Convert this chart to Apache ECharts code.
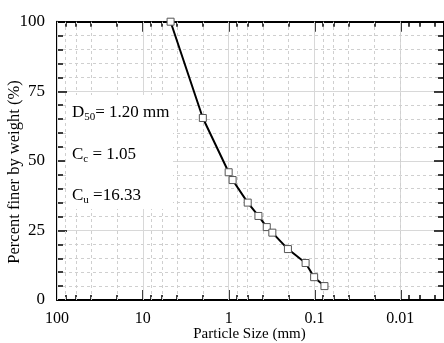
<!DOCTYPE html>
<html><head><meta charset="utf-8">
<script src="https://cdn.jsdelivr.net/npm/echarts@6/dist/echarts.min.js"></script>
<style>html,body{margin:0;padding:0;background:#fff}#c{width:444px;height:343px}</style>
</head><body><div id="c"></div>
<script>
// Data
const sizes = [4.75, 2.0, 1.0, 0.9, 0.6, 0.45, 0.36, 0.31, 0.204, 0.127, 0.101, 0.0766];
const finer = [100, 65.4, 45.9, 43.1, 35.0, 30.2, 26.2, 24.2, 18.3, 13.3, 8.2, 5.0];
const xMajorTicks = [100, 10, 1, 0.1, 0.01];
const xTickLabels = ['100', '10', '1', '0.1', '0.01'];
const xMinorTicks = [80, 60, 40, 20, 8, 6, 4, 2, 0.8, 0.6, 0.4, 0.2, 0.08, 0.06, 0.04, 0.02, 0.008, 0.006, 0.004];
const yTickLabels = ['0', '25', '50', '75', '100'];
const annotations = ['{a|D}{s|50}{a|= 1.20 mm}', '{a|C}{s|c}{a| = 1.05}', '{a|C}{s|u}{a| =16.33}'];

const FONT = '"Liberation Serif", "Times New Roman", serif';
const chart = echarts.init(document.getElementById('c'), null, {renderer: 'canvas'});
const xMin = 0.0031, xMax = 100;
const labelMap = {};
xMajorTicks.forEach((v, i) => { labelMap[v] = xTickLabels[i]; });

function xAxisBase(pos, ticks, len, showLine, showLabel) {
  return {
    type: 'log', logBase: 10, inverse: true, min: xMin, max: xMax, position: pos,
    axisLine: {show: showLine, onZero: false, lineStyle: {color: '#000', width: 2}},
    axisTick: {show: true, inside: true, length: len, customValues: ticks, lineStyle: {color: '#000', width: 1.5}},
    axisLabel: {show: showLabel, customValues: xMajorTicks, margin: 11,
      formatter: v => labelMap[v] !== undefined ? labelMap[v] : '',
      fontFamily: FONT, fontSize: 16, color: '#000'},
    splitLine: {show: false}, minorTick: {show: false}, minorSplitLine: {show: false}
  };
}

const vLines = [];
xMajorTicks.forEach(v => vLines.push({xAxis: v, lineStyle: {type: 'solid', color: '#d8d8d8', width: 1}}));
xMinorTicks.forEach(v => vLines.push({xAxis: v, lineStyle: {type: [3, 3], color: '#cfcfcf', width: 1}}));

const option = {
  animation: false,
  backgroundColor: '#fff',
  grid: {left: 57, right: -1, top: 21.7, bottom: 43, containLabel: false},
  xAxis: [
    xAxisBase('bottom', xMajorTicks, 10, true, true),
    xAxisBase('bottom', xMinorTicks, 5, false, false),
    xAxisBase('top', xMajorTicks, 10, true, false),
    xAxisBase('top', xMinorTicks, 5, false, false)
  ],
  yAxis: [
    {
      type: 'value', min: 0, max: 100, interval: 25, position: 'left',
      axisLine: {show: true, onZero: false, lineStyle: {color: '#000', width: 2}},
      axisTick: {show: true, inside: true, length: 10, lineStyle: {color: '#000', width: 1.5}},
      minorTick: {show: true, splitNumber: 5, length: 6, lineStyle: {color: '#000', width: 1.5}},
      axisLabel: {margin: 12, fontFamily: FONT, fontSize: 17, color: '#000',
        formatter: v => yTickLabels[Math.round(v / 25)]},
      splitLine: {show: true, lineStyle: {color: '#d8d8d8', width: 1}},
      minorSplitLine: {show: true, lineStyle: {color: '#cfcfcf', width: 1, type: [3, 3]}}
    },
    {
      type: 'value', min: 0, max: 100, interval: 25, position: 'right',
      axisLine: {show: true, onZero: false, lineStyle: {color: '#000', width: 2}},
      axisTick: {show: true, inside: true, length: 10, lineStyle: {color: '#000', width: 1.5}},
      minorTick: {show: true, splitNumber: 5, length: 6, lineStyle: {color: '#000', width: 1.5}},
      axisLabel: {show: false}, splitLine: {show: false}, minorSplitLine: {show: false}
    }
  ],
  series: [{
    type: 'line', xAxisIndex: 0, yAxisIndex: 0,
    data: sizes.map((s, i) => [s, finer[i]]),
    symbol: 'rect', symbolSize: 7, showAllSymbol: true,
    lineStyle: {color: '#000', width: 2},
    itemStyle: {color: '#fff', borderColor: '#555', borderWidth: 1},
    z: 10,
    markLine: {silent: true, symbol: 'none', label: {show: false}, animation: false, data: vLines, z: 1}
  }],
  graphic: [
    {type: 'rect', z: 50, shape: {x: 66, y: 95, width: 107, height: 114}, style: {fill: '#fff'}},
    {type: 'text', z: 60, left: 72, top: 104, style: {text: annotations[0], fontFamily: FONT,
      rich: {a: {fontFamily: FONT, fontSize: 17, lineHeight: 20, fill: '#000'}, s: {fontFamily: FONT, fontSize: 11, lineHeight: 11, verticalAlign: 'bottom', fill: '#000'}}}},
    {type: 'text', z: 60, left: 72, top: 146, style: {text: annotations[1], fontFamily: FONT,
      rich: {a: {fontFamily: FONT, fontSize: 17, lineHeight: 20, fill: '#000'}, s: {fontFamily: FONT, fontSize: 11, lineHeight: 11, verticalAlign: 'bottom', fill: '#000'}}}},
    {type: 'text', z: 60, left: 72, top: 187, style: {text: annotations[2], fontFamily: FONT,
      rich: {a: {fontFamily: FONT, fontSize: 17, lineHeight: 20, fill: '#000'}, s: {fontFamily: FONT, fontSize: 11, lineHeight: 11, verticalAlign: 'bottom', fill: '#000'}}}},
    {type: 'text', z: 60, x: 249.5, y: 334, style: {text: 'Particle Size (mm)', fontFamily: FONT, fontSize: 15, fill: '#000', align: 'center', verticalAlign: 'middle'}},
    {type: 'text', z: 60, x: 15, y: 172, rotation: Math.PI / 2, style: {text: 'Percent finer by weight (%)', fontFamily: FONT, fontSize: 16.5, fill: '#000', align: 'center', verticalAlign: 'middle'}}
  ]
};
chart.setOption(option);
</script></body></html>
